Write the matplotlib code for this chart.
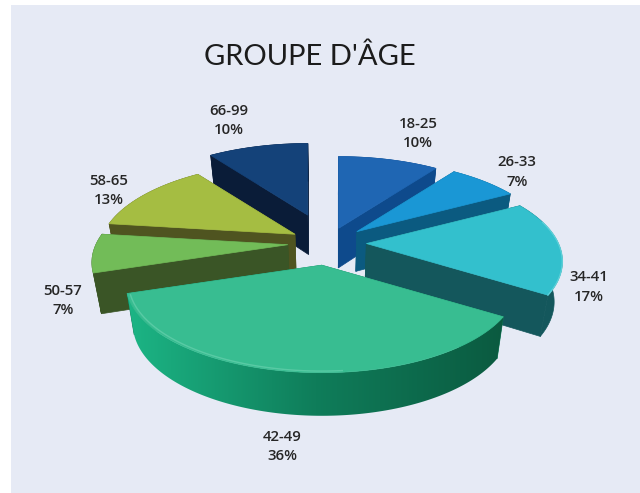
import numpy as np
import matplotlib
matplotlib.use("Agg")
import matplotlib.pyplot as plt
from matplotlib.patches import Polygon, Rectangle
from matplotlib.colors import LinearSegmentedColormap

categories = ["18-25", "26-33", "34-41", "42-49", "50-57", "58-65", "66-99"]
values = [10, 7, 17, 36, 7, 13, 10]
explode = [0.18, 0.20, 0.20, 0.26, 0.21, 0.20, 0.34]
top_colors = ["#1f66b3", "#1a97d5", "#33c0cd", "#38bd91", "#72bc58", "#a5bd42", "#144279"]
side_colors = ["#0e4a8c", "#0b5a80", "#14575c", "#0f7d5a", "#3a5526", "#4f5420", "#0a1c38"]
label_pos = [(418, 133.5), (517, 172), (589, 287), (282, 446.5), (63, 300.5), (109, 190.5), (229, 120.5)]
draw_order = [6, 0, 1, 5, 2, 4, 3]
title = "GROUPE D'ÂGE"

CX, CY = 328, 243
RX, RY = 192, 86
PERSP = 0.2
DEPTH = 40
BG = "#e6eaf5"

fig = plt.figure(figsize=(6.4, 4.93), dpi=100, facecolor="white")
ax = fig.add_axes([0, 0, 1, 1])
ax.add_patch(Rectangle((11, 5), 629, 488, fc=BG, ec="none", zorder=0))

rim_cmap = LinearSegmentedColormap.from_list("rim", ["#1cb585", "#0f7d5a", "#0b5a40"])


def rim(apex, th):
    s = np.sin(th)
    den = 1 + PERSP * s
    return np.column_stack([apex[0] + RX * np.cos(th) / den, apex[1] - RY * s / den])


def lower(p):
    p = np.atleast_2d(p)
    return np.column_stack([
        CX + (p[:, 0] - CX) * 0.965,
        p[:, 1] + DEPTH * (1 + (p[:, 1] - CY) * 0.0006),
    ])


fracs = np.array(values) / sum(values)
ends = np.pi / 2 - 2 * np.pi * np.cumsum(fracs)
starts = ends + 2 * np.pi * fracs

z = 2
for i in draw_order:
    a0, a1 = starts[i], ends[i]
    mid = (a0 + a1) / 2
    apex = np.array([CX + explode[i] * RX * np.cos(mid), CY - explode[i] * RY * np.sin(mid)])
    th = np.linspace(a0, a1, 160)
    edge = rim(apex, th)
    low = lower(edge)
    apex_low = lower(apex)[0]
    for e, el in ((edge[0], low[0]), (edge[-1], low[-1])):
        ax.add_patch(Polygon([apex, e, el, apex_low], fc=side_colors[i], ec=side_colors[i], lw=0.5, zorder=z))
    strip = np.vstack([edge, low[::-1]])
    if categories[i] == "42-49":
        clip = Polygon(strip, fc="none", ec="none", transform=ax.transData)
        ax.add_patch(clip)
        x0, x1 = strip[:, 0].min(), strip[:, 0].max()
        y0, y1 = strip[:, 1].min(), strip[:, 1].max()
        im = ax.imshow(np.linspace(0, 1, 256).reshape(1, -1), cmap=rim_cmap, aspect="auto",
                       extent=(x0, x1, y1, y0), zorder=z, interpolation="bilinear")
        im.set_clip_path(clip)
    else:
        ax.add_patch(Polygon(strip, fc=side_colors[i], ec=side_colors[i], lw=0.5, zorder=z))
    ax.add_patch(Polygon(np.vstack([apex, edge]), fc=top_colors[i], ec=top_colors[i], lw=0.5, zorder=z + 0.5))
    if categories[i] == "42-49":
        th2 = np.linspace(a1 + 0.02, np.radians(-85), 60)
        hl = apex + (rim(apex, th2) - apex) * 0.985
        ax.plot(hl[:, 0], hl[:, 1], color="#6fd3b2", lw=1.0, alpha=0.6, zorder=z + 0.6)
    if categories[i] == "34-41":
        th2 = np.linspace(np.radians(15), a1, 40)
        hl = rim(apex, th2)
        ax.plot(hl[:, 0], hl[:, 1], color="#6fdbe2", lw=1.0, alpha=0.7, zorder=z + 0.6)
    z += 1

ax.set_xlim(0, 640)
ax.set_ylim(493, 0)
ax.axis("off")

ax.text(310, 57, title, ha="center", va="center", fontsize=21, family="Lato", color="#1c1c1c", zorder=30)
for cat, val, (x, y) in zip(categories, values, label_pos):
    ax.text(x, y, f"{cat}\n{val}%", ha="center", va="center", fontsize=10.8, family="Open Sans",
            fontweight="semibold", color="#262626", linespacing=1.5, zorder=30)

fig.savefig("out.png", dpi=100, facecolor="white")
